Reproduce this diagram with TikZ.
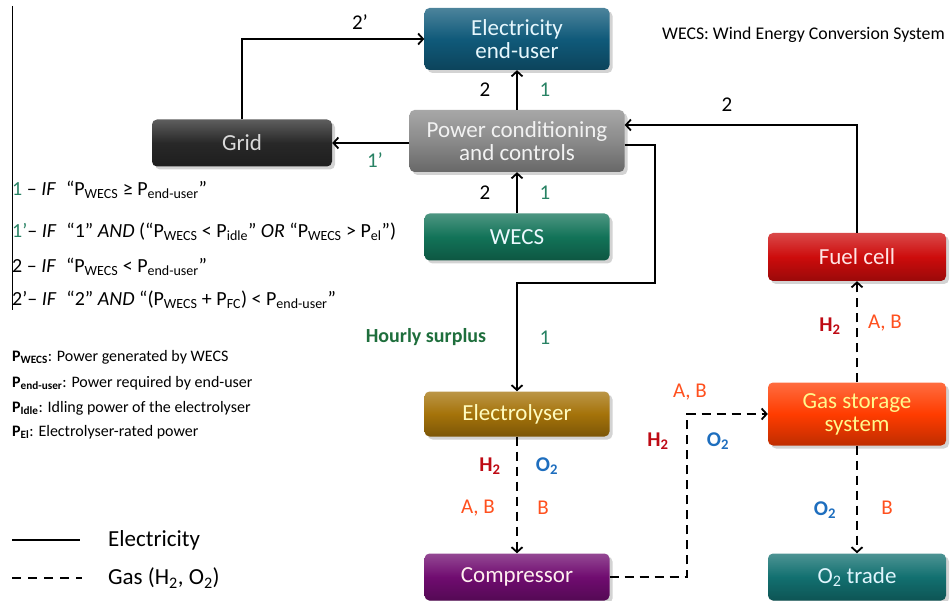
\documentclass[tikz,border=0pt]{standalone}
\usepackage{fontspec}
\setmainfont{Carlito}
\usepackage{tikz}
\usetikzlibrary{arrows.meta}
\usetikzlibrary{shadows}
\usetikzlibrary{positioning}
\definecolor{enduserblue}{RGB}{16,90,122}
\definecolor{pcgray}{RGB}{138,138,138}
\definecolor{gridblack}{RGB}{40,40,40}
\definecolor{wecsgreen}{RGB}{18,115,88}
\definecolor{fuelred}{RGB}{205,12,12}
\definecolor{electrobrown}{RGB}{165,115,10}
\definecolor{storeorange}{RGB}{255,60,0}
\definecolor{comprpurple}{RGB}{112,12,112}
\definecolor{tradeteal}{RGB}{18,112,112}
\definecolor{lgreen}{RGB}{40,130,100}
\definecolor{surplusgreen}{RGB}{30,110,60}
\definecolor{htwored}{RGB}{190,10,20}
\definecolor{otwoblue}{RGB}{30,110,190}
\definecolor{aborange}{RGB}{255,80,30}
\tikzset{box/.style = {rounded corners = 5pt, inner sep = 0, align = center,
                       top color = #1!75!white, bottom color = #1!75!black, middle color = #1,
                       drop shadow = {shadow xshift = 3pt, shadow yshift = -3pt, opacity = 0.35},
                       font = \fontsize{23}{23}\selectfont}}
\tikzset{elec/.style = {line width = 1.8pt, >={Straight Barb[length = 5pt, width = 11pt]}}}
\tikzset{gas/.style = {line width = 1.8pt, dash pattern = on 9pt off 6pt,
                       >={Straight Barb[length = 5pt, width = 11pt]}}}
\tikzset{lbl/.style = {inner sep = 0, font = \fontsize{21}{22}\selectfont}}
\tikzset{gaslbl/.style = {inner sep = 0, font = \bfseries\fontsize{21}{22}\selectfont}}
\tikzset{cond/.style = {anchor = west, inner sep = 0, font = \fontsize{20}{21}\selectfont}}
\tikzset{defn/.style = {anchor = west, inner sep = 0, font = \fontsize{16}{17}\selectfont}}

\begin{document}
\begin{tikzpicture}[x = 1pt, y = -1pt]
  \useasboundingbox (0, 0) rectangle (952, 601);
  \draw [line width = 1pt] (12, 6) -- (12, 310);

  % blocks
  \node [box = enduserblue, minimum width = 185pt, minimum height = 62pt,
         text = cyan!10] (enduser) at (517, 39) {Electricity\\end-user};
  \node [box = pcgray, minimum width = 215pt, minimum height = 62pt,
         text = white!95!black] (pcc) at (517, 141) {Power conditioning\\and controls};
  \node [box = gridblack, minimum width = 180pt, minimum height = 47pt,
         text = white!85!black] (grid) at (242, 143) {Grid};
  \node [box = wecsgreen, minimum width = 185pt, minimum height = 47pt,
         text = cyan!8] (wecs) at (517, 237) {WECS};
  \node [box = fuelred, minimum width = 178pt, minimum height = 48pt,
         text = pink!40] (fuel) at (857, 257) {Fuel cell};
  \node [box = electrobrown, minimum width = 185pt, minimum height = 45pt,
         text = yellow!25] (electro) at (517, 414) {Electrolyser};
  \node [box = storeorange, minimum width = 178pt, minimum height = 63pt,
         text = yellow!45] (store) at (857, 414) {Gas storage\\system};
  \node [box = comprpurple, minimum width = 185pt, minimum height = 47pt,
         text = pink!25] (compr) at (517, 577) {Compressor};
  \node [box = tradeteal, minimum width = 178pt, minimum height = 47pt,
         text = cyan!12] (otrade) at (857, 577) {O\textsubscript{2} trade};

  % electricity
  \coordinate (surplus) at (655, 283);
  \coordinate (gasbend) at (687, 577);
  \draw [elec, ->] (grid.north) |- (enduser.west);
  \draw [elec, ->] (pcc.west |- grid.east) -- (grid.east);
  \draw [elec, ->] (pcc) -- (enduser);
  \draw [elec, ->] (wecs) -- (pcc);
  \draw [elec, ->] (fuel.north) |- ([yshift = 16pt]pcc.east);
  \draw [elec, ->] ([yshift = -4pt]pcc.east) -| (surplus) -| (electro.north);

  % gas
  \draw [gas, ->] (electro) -- (compr);
  \draw [gas, ->] (compr.east) -- (gasbend) |- (store.west);
  \draw [gas, ->] (store) -- (fuel);
  \draw [gas, ->] (store) -- (otrade);

  % labels
  \node [lbl] (ltwop) at (360, 22) {2’};
  \node [lbl, text = lgreen] (lonep) at (375, 160) {1’};
  \node [lbl] (ltwoa) at (485, 90) {2};
  \node [lbl, text = lgreen] (lonea) at (545, 90) {1};
  \node [lbl] (ltwob) at (485, 193) {2};
  \node [lbl, text = lgreen] (loneb) at (545, 193) {1};
  \node [lbl] (ltwoc) at (727, 105) {2};
  \node [lbl, text = lgreen] (lonec) at (545, 338) {1};
  \node [lbl, font = \bfseries\fontsize{20}{21}\selectfont, text = surplusgreen]
        (hourly) at (426, 337) {Hourly surplus};

  \node [gaslbl, text = htwored] (hel) at (490, 466) {H\textsubscript{2}};
  \node [gaslbl, text = otwoblue] (oel) at (547, 466) {O\textsubscript{2}};
  \node [lbl, text = aborange] (abel) at (478, 508) {A, B};
  \node [lbl, text = aborange] (bel) at (543, 508) {B};
  \node [lbl, text = aborange] (abco) at (690, 392) {A, B};
  \node [gaslbl, text = htwored] (hco) at (658, 441) {H\textsubscript{2}};
  \node [gaslbl, text = otwoblue] (oco) at (718, 441) {O\textsubscript{2}};
  \node [gaslbl, text = otwoblue] (ost) at (825, 510) {O\textsubscript{2}};
  \node [lbl, text = aborange] (bst) at (887, 508) {B};
  \node [gaslbl, text = htwored] (hst) at (830, 326) {H\textsubscript{2}};
  \node [lbl, text = aborange] (abst) at (885, 323) {A, B};

  \node [anchor = west, inner sep = 0, font = \fontsize{17.8}{19}\selectfont]
        (wecsnote) at (662, 35) {WECS: Wind Energy Conversion System};

  % conditions
  \node [cond] (condone) at (12, 190)
        {\textcolor{lgreen}{1} – \textit{IF}\enspace “P\textsubscript{WECS} ≥ P\textsubscript{end-user}”};
  \node [cond] (condonep) at (12, 232)
        {\textcolor{lgreen}{1’}– \textit{IF}\enspace “1” \textit{AND} (“P\textsubscript{WECS} < P\textsubscript{idle}” \textit{OR} “P\textsubscript{WECS} > P\textsubscript{el}”)};
  \node [cond] (condtwo) at (12, 267)
        {2 – \textit{IF}\enspace “P\textsubscript{WECS} < P\textsubscript{end-user}”};
  \node [cond] (condtwop) at (12, 300)
        {2’– \textit{IF}\enspace “2” \textit{AND} “(P\textsubscript{WECS} + P\textsubscript{FC}) < P\textsubscript{end-user}”};

  \node [defn] (defwecs) at (12, 357) {\textbf{P\textsubscript{WECS}}: Power generated by WECS};
  \node [defn] (defuser) at (12, 383) {\textbf{P\textsubscript{end-user}}: Power required by end-user};
  \node [defn] (defidle) at (12, 408) {\textbf{P\textsubscript{Idle}}: Idling power of the electrolyser};
  \node [defn] (defel) at (12, 432) {\textbf{P\textsubscript{El}}: Electrolyser-rated power};

  % legend
  \draw [elec] (12, 540) -- (80, 540);
  \draw [line width = 1.8pt, dash pattern = on 9pt off 7pt] (12, 578) -- (82, 578);
  \node [anchor = west, inner sep = 0, font = \fontsize{23}{24}\selectfont]
        (legelec) at (108, 540) {Electricity};
  \node [anchor = west, inner sep = 0, font = \fontsize{23}{24}\selectfont]
        (leggas) at (108, 578) {Gas (H\textsubscript{2}, O\textsubscript{2})};
\end{tikzpicture}
\end{document}
